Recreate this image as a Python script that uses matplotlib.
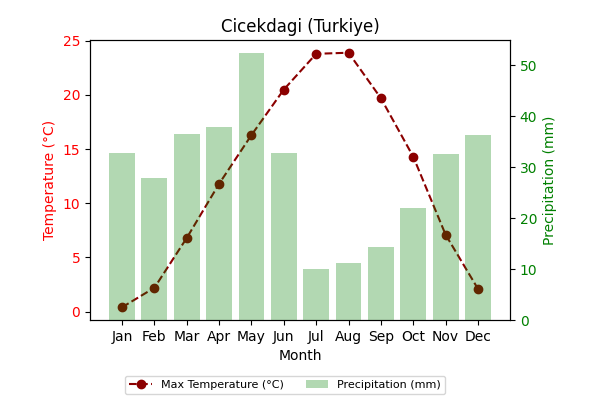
import numpy as np
import matplotlib
matplotlib.use("Agg")
import matplotlib.pyplot as plt

# datos mensuales
months = ['Jan', 'Feb', 'Mar', 'Apr', 'May', 'Jun', 'Jul', 'Aug', 'Sep', 'Oct', 'Nov', 'Dec']
max_temp = [0.4, 2.2, 6.8, 11.8, 16.3, 20.5, 23.8, 23.9, 19.7, 14.3, 7.1, 2.1]
precip = [32.7, 27.8, 36.5, 37.8, 52.3, 32.7, 10.0, 11.2, 14.3, 22.0, 32.5, 36.3]

fig, ax1 = plt.subplots(figsize=(6, 4), dpi=100)
ax2 = ax1.twinx()

l1, = ax1.plot(months, max_temp, color='darkred', linestyle='--', marker='o',
               label='Max Temperature (°C)')
b2 = ax2.bar(months, precip, color='green', alpha=0.3, label='Precipitation (mm)')

ax1.set_xlabel('Month')
ax1.set_ylabel('Temperature (°C)', color='red')
ax1.tick_params(axis='y', labelcolor='red')
ax2.set_ylabel('Precipitation (mm)', color='green')
ax2.tick_params(axis='y', labelcolor='green')
ax1.set_title('Cicekdagi (Turkiye)')

fig.subplots_adjust(left=0.15, right=0.85, top=0.9, bottom=0.2)
fig.legend([l1, b2], [l1.get_label(), b2.get_label()], loc='lower center',
           bbox_to_anchor=(0.475, 0.0), ncol=2, fontsize=8)

plt.savefig('out.png')
